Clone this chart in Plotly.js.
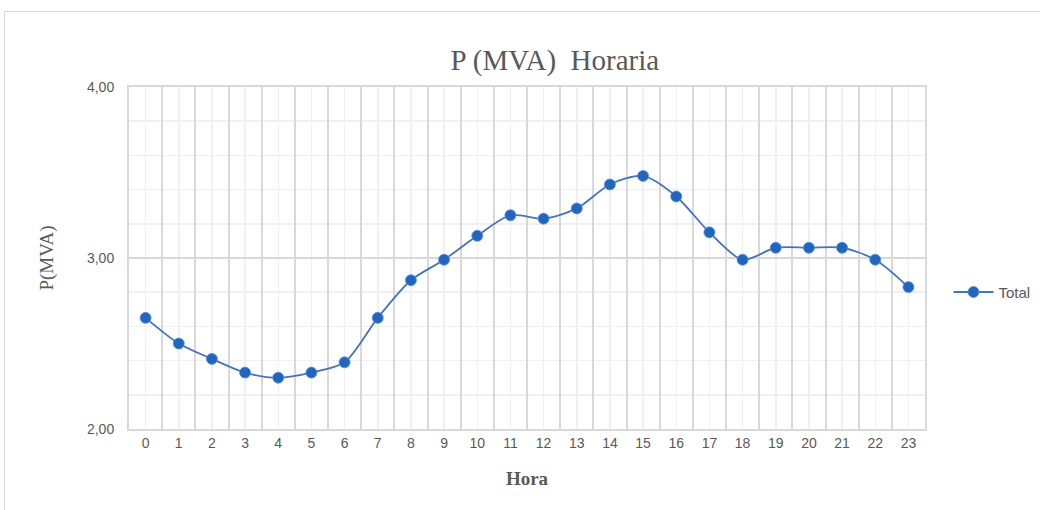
<!DOCTYPE html>
<html>
<head>
<meta charset="utf-8">
<script src="https://cdn.plot.ly/plotly-3.0.1.min.js"></script>
<style>
  html, body { margin: 0; padding: 0; background: #ffffff; }
  #frame { position: absolute; left: 4px; top: 11px; width: 1100px; height: 560px; border: 1.5px solid #d9d9d9; box-sizing: border-box; }
  #chart { position: absolute; left: 0; top: 0; width: 1040px; height: 510px; }
</style>
</head>
<body>
<div id="frame"></div>
<div id="chart"></div>
<script>
const hours = [0,1,2,3,4,5,6,7,8,9,10,11,12,13,14,15,16,17,18,19,20,21,22,23];
const totalMVA = [2.65,2.50,2.41,2.33,2.30,2.33,2.39,2.65,2.87,2.99,3.13,3.25,3.23,3.29,3.43,3.48,3.36,3.15,2.99,3.06,3.06,3.06,2.99,2.83];
const seriesName = "Total";

const trace = {
  x: hours,
  y: totalMVA,
  name: seriesName,
  type: 'scatter',
  mode: 'lines+markers',
  line: { color: '#4472c4', width: 1.8, shape: 'spline', smoothing: 0.8 },
  marker: { color: '#1f66c2', size: 11, line: { color: '#5b8fd6', width: 0.8 } },
  showlegend: true
};

// invisible companion trace so the category-boundary grid axis is drawn
const gridTrace = {
  x: hours,
  y: totalMVA,
  xaxis: 'x2',
  yaxis: 'y',
  type: 'scatter',
  mode: 'markers',
  marker: { opacity: 0 },
  showlegend: false,
  hoverinfo: 'skip'
};

const fontSans = 'Liberation Sans, Arial, sans-serif';
const fontSerif = 'Liberation Serif, Times New Roman, serif';

const layout = {
  width: 1040,
  height: 510,
  paper_bgcolor: 'rgba(0,0,0,0)',
  plot_bgcolor: '#ffffff',
  separators: ',.',
  margin: { l: 129, r: 115, t: 87, b: 81 },
  title: {
    text: 'P (MVA)  Horaria',
    font: { family: fontSerif, size: 29, color: '#595959' },
    x: 0.535, xref: 'paper', xanchor: 'center',
    y: 0.882, yref: 'container', yanchor: 'middle'
  },
  xaxis: {
    range: [-0.5, 23.5],
    tickmode: 'linear',
    tick0: 0,
    dtick: 1,
    ticks: '',
    showgrid: true,
    gridcolor: '#f0f0f0',
    gridwidth: 1.5,
    showline: true, linecolor: '#d9d9d9', linewidth: 2, mirror: true,
    zeroline: false,
    tickfont: { family: fontSans, size: 14, color: '#595959' },
    title: { text: '<b>Hora</b>', font: { family: fontSerif, size: 19, color: '#595959' }, standoff: 22 },
    fixedrange: true
  },
  xaxis2: {
    overlaying: 'x',
    side: 'bottom',
    range: [-0.5, 23.5],
    tickmode: 'linear',
    tick0: -0.5,
    dtick: 1,
    ticks: '',
    showticklabels: false,
    showgrid: true,
    gridcolor: '#d9d9d9',
    gridwidth: 2,
    showline: false,
    zeroline: false,
    fixedrange: true
  },
  yaxis: {
    range: [2, 4],
    tick0: 2,
    dtick: 1,
    tickformat: '.2f',
    ticks: '',
    showgrid: true,
    gridcolor: '#d9d9d9',
    gridwidth: 2,
    minor: { tickmode: 'linear', tick0: 2, dtick: 0.2, showgrid: true, gridcolor: '#f0f0f0', gridwidth: 1.5, ticks: '' },
    showline: true, linecolor: '#d9d9d9', linewidth: 2, mirror: true,
    zeroline: false,
    tickfont: { family: fontSans, size: 14, color: '#595959' },
    ticklabelstandoff: 10,
    title: { text: 'P(MVA)', font: { family: fontSerif, size: 19, color: '#595959' }, standoff: 28 },
    fixedrange: true
  },
  legend: {
    xref: 'container', yref: 'container',
    x: 0.912, xanchor: 'left',
    y: 0.427, yanchor: 'middle',
    font: { family: fontSans, size: 15, color: '#595959' },
    bgcolor: 'rgba(0,0,0,0)',
    itemwidth: 40
  },
  hovermode: false
};

Plotly.newPlot('chart', [trace, gridTrace], layout, { displayModeBar: false, staticPlot: true });
</script>
</body>
</html>
